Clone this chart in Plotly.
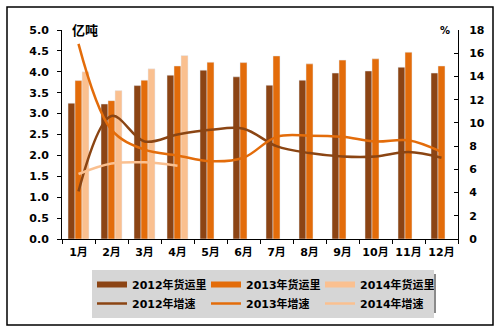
import plotly.graph_objects as go

# Monthly freight volume (亿吨) and year-on-year growth (%)
months = ["1月", "2月", "3月", "4月", "5月", "6月", "7月", "8月", "9月", "10月", "11月", "12月"]
volume_2012 = [3.25, 3.23, 3.67, 3.92, 4.04, 3.88, 3.68, 3.80, 3.97, 4.02, 4.11, 3.97]
volume_2013 = [3.79, 3.31, 3.80, 4.14, 4.23, 4.22, 4.38, 4.19, 4.28, 4.31, 4.47, 4.14]
volume_2014 = [4.00, 3.55, 4.07, 4.39, None, None, None, None, None, None, None, None]
growth_2012 = [4.1, 10.6, 8.4, 9.0, 9.4, 9.5, 8.0, 7.4, 7.1, 7.1, 7.5, 7.0]
growth_2013 = [16.8, 9.4, 7.7, 7.2, 6.7, 7.0, 8.8, 8.9, 8.8, 8.4, 8.5, 7.5]
growth_2014 = [5.6, 6.5, 6.6, 6.3]

C2012 = "#8c4414"
C2013 = "#e36c0a"
C2014 = "#fac090"

FONT = "DejaVu Sans, Noto Sans CJK SC"

fig = go.Figure()
bar_series = [
    ("2012年货运里", volume_2012, C2012),
    ("2013年货运里", volume_2013, C2013),
    ("2014年货运里", volume_2014, C2014),
]
for name, vals, col in bar_series:
    fig.add_bar(x=months, y=vals, name=name, marker_color=col,
                showlegend=False, legendgroup=name)

# legend keys for the bar series: wide flat swatches
for name, vals, col in bar_series:
    fig.add_scatter(x=[None], y=[None], name=name, mode="lines",
                    line=dict(color=col, width=6), legendgroup=name)

line_style = dict(shape="spline", smoothing=1.0, width=2.5)
fig.add_scatter(x=months, y=growth_2012, name="2012年增速", mode="lines",
                line=dict(color="#8b4513", **line_style), yaxis="y2")
fig.add_scatter(x=months, y=growth_2013, name="2013年增速", mode="lines",
                line=dict(color=C2013, **line_style), yaxis="y2")
fig.add_scatter(x=months[:len(growth_2014)], y=growth_2014, name="2014年增速", mode="lines",
                line=dict(color=C2014, **line_style), yaxis="y2")

L, R, T, B = 62, 42, 30, 93
W, H = 500, 332
pw, ph = W - L - R, H - T - B


def px(x):
    return (x - L) / pw


def py(y):
    return (H - B - y) / ph


tick_font = dict(family=FONT, size=11, color="black", weight="bold")

fig.update_layout(
    width=W, height=H,
    margin=dict(l=L, r=R, t=T, b=B, autoexpand=False),
    paper_bgcolor="white", plot_bgcolor="white",
    barmode="group", bargap=0.364, bargroupgap=0,
    font=dict(family=FONT, color="black"),
    xaxis=dict(
        showline=True, linecolor="black", linewidth=1,
        ticks="outside", ticklen=4, tickcolor="black", tickson="boundaries",
        tickfont=tick_font, tickangle=0, showgrid=False, automargin=False,
        ticklabelstandoff=3,
    ),
    yaxis=dict(
        range=[0, 5], dtick=0.5, tickformat=".1f",
        showline=True, linecolor="black", linewidth=1,
        ticks="outside", ticklen=4, tickcolor="black",
        tickfont=tick_font, showgrid=False, zeroline=False, automargin=False,
        ticklabelstandoff=6,
    ),
    yaxis2=dict(
        range=[0, 18], dtick=2, overlaying="y", side="right",
        showline=True, linecolor="black", linewidth=1,
        ticks="inside", ticklen=4, tickcolor="black",
        tickfont=tick_font, showgrid=False, zeroline=False, automargin=False,
        ticklabelstandoff=8,
    ),
    legend=dict(
        orientation="h", x=px(92), y=py(270), xanchor="left", yanchor="top",
        bgcolor="#d6d6d6", entrywidth=69, entrywidthmode="pixels",
        font=dict(family=FONT, size=11, color="black", weight="bold"),
        traceorder="normal", tracegroupgap=0, itemwidth=30,
    ),
    showlegend=True,
)

# legend drop shadow and outer frame
fig.add_shape(type="rect", xref="paper", yref="paper",
              x0=px(96), x1=px(436), y0=py(274), y1=py(313),
              fillcolor="#8a8a8a", line_width=0, layer="below")
fig.add_shape(type="rect", xref="paper", yref="paper",
              x0=px(7), x1=px(493), y0=py(7), y1=py(325),
              line=dict(color="black", width=1.5), fillcolor="rgba(0,0,0,0)")

fig.add_annotation(text="亿吨", xref="paper", yref="paper", x=px(70), y=py(30),
                   xanchor="left", yanchor="middle", showarrow=False,
                   font=dict(family=FONT, size=13, color="black", weight="bold"))
fig.add_annotation(text="%", xref="paper", yref="paper", x=px(445), y=py(30),
                   xanchor="center", yanchor="middle", showarrow=False,
                   font=dict(family=FONT, size=10, color="black", weight="bold"))

fig.write_html("out.html")
